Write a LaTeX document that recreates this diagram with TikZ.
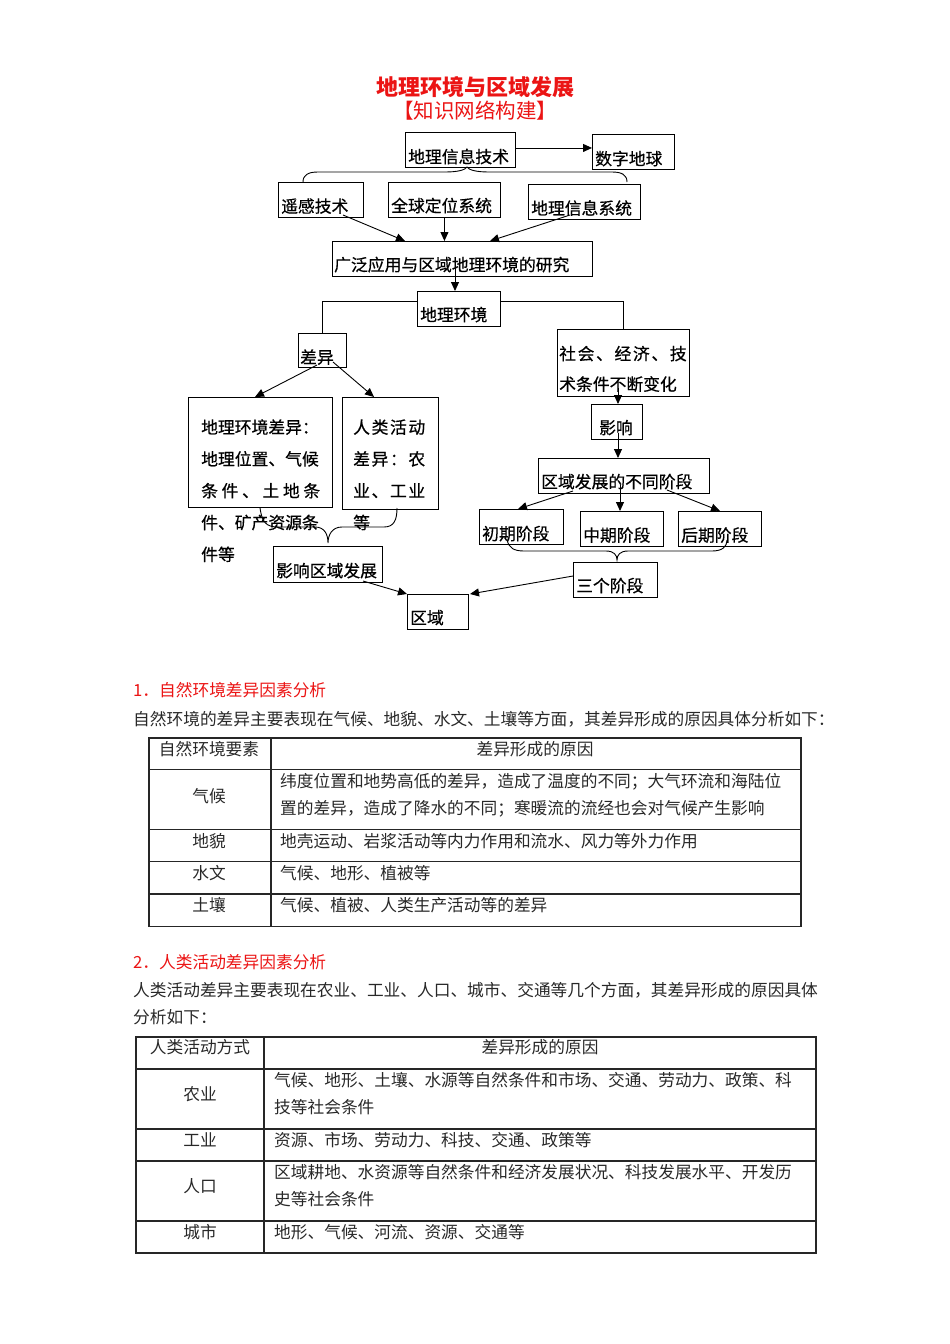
\documentclass[tikz,border=0pt]{standalone}
\usepackage{fontspec}
\setmainfont{Noto Sans CJK SC}
\newfontfamily\dfam[FakeBold=0.5]{Noto Sans CJK SC}
\usetikzlibrary{arrows.meta,calc}
\definecolor{tred}{RGB}{235,20,20}
\definecolor{ttext}{RGB}{40,40,40}
\newcommand{\dfont}{\dfam\fontsize{16.8pt}{20pt}\selectfont}
\newcommand{\tfont}{\fontsize{16.7pt}{20pt}\selectfont}
\begin{document}
\begin{tikzpicture}[x=1pt,y=-1pt,
  box/.style={draw, line width=0.9pt, inner sep=0pt, anchor=north west},
  lbl/.style={anchor=base west, inner sep=0pt, font=\dfont},
  arr/.style={line width=0.9pt, -{Triangle[length=9pt,width=8pt]}},
  ln/.style={line width=0.9pt},
  tbo/.style={line width=1.6pt, color=black!85},
  tbi/.style={line width=1.3pt, color=black!85},
  tc/.style={anchor=base, inner sep=0pt, font=\tfont, text=ttext},
  tl/.style={anchor=base west, inner sep=0pt, font=\tfont, text=ttext},
  hd/.style={anchor=base west, inner sep=0pt, font=\tfont, text=tred}]
\useasboundingbox (0,0) rectangle (950,1344);

% titles
\node[anchor=base, inner sep=0pt, font=\fontsize{22pt}{26pt}\selectfont\bfseries, text=tred] (title) at (475,95) {地理环境与区域发展};
\node[anchor=base, inner sep=0pt, font=\fontsize{20.5pt}{24pt}\selectfont, text=tred] (subtitle) at (475,118) {【知识网络构建】};

% boxes
\node[box, minimum width=110pt, minimum height=35pt] (git)  at (405,132) {};
\node[box, minimum width=82pt,  minimum height=35pt] (szdq) at (592,134) {};
\node[box, minimum width=85pt,  minimum height=35pt] (ygjs) at (278,182) {};
\node[box, minimum width=112pt, minimum height=35pt] (qqdw) at (388,182) {};
\node[box, minimum width=112pt, minimum height=35pt] (dlxx) at (528,184) {};
\node[box, minimum width=260pt, minimum height=35pt] (gfyy) at (332,241) {};
\node[box, minimum width=83pt,  minimum height=35pt] (dlhj) at (417,291) {};
\node[box, minimum width=48pt,  minimum height=34pt] (cy)   at (298,333) {};
\node[box, minimum width=132pt, minimum height=67pt] (sh)   at (557,329) {};
\node[box, minimum width=144pt, minimum height=110pt] (dlcy) at (188,397) {};
\node[box, minimum width=96pt,  minimum height=112pt] (rlhd) at (342,397) {};
\node[box, minimum width=109pt, minimum height=36pt] (yxqy) at (273,546) {};
\node[box, minimum width=61pt,  minimum height=35pt] (qy)   at (407,594) {};
\node[box, minimum width=51pt,  minimum height=35pt] (yx)   at (591,404) {};
\node[box, minimum width=171pt, minimum height=35pt] (qyfz) at (538,458) {};
\node[box, minimum width=84pt,  minimum height=35pt] (cq)   at (479,509) {};
\node[box, minimum width=83pt,  minimum height=35pt] (zq)   at (580,511) {};
\node[box, minimum width=83pt,  minimum height=35pt] (hq)   at (678,511) {};
\node[box, minimum width=84pt,  minimum height=35pt] (sgjd) at (573,562) {};

% box texts
\node[lbl] (tgit)  at (408,163)   {地理信息技术};
\node[lbl] (tszdq) at (595,165)   {数字地球};
\node[lbl] (tygjs) at (281,212.5) {遥感技术};
\node[lbl] (tqqdw) at (391,212)   {全球定位系统};
\node[lbl] (tdlxx) at (531,214.5) {地理信息系统};
\node[lbl] (tgfyy) at (334,271)   {广泛应用与区域地理环境的研究};
\node[lbl] (tdlhj) at (420,321)   {地理环境};
\node[lbl] (tcy)   at (300,363.5) {差异};
\node[lbl] (tsh1)  at (559,360)   {\makebox[127.5pt][s]{社\hfill 会\hfill 、\hfill 经\hfill 济\hfill 、\hfill 技}};
\node[lbl] (tsh2)  at (559,390.5) {术条件不断变化};
\node[lbl] (td1) at (201,433.5) {地理环境差异：};
\node[lbl] (td2) at (201,465.3) {地理位置、气候};
\node[lbl] (td3) at (201,497.1) {\makebox[119pt][s]{条\hfill 件\hfill 、\hfill 土\hfill 地\hfill 条}};
\node[lbl] (td4) at (201,528.9) {件、矿产资源条};
\node[lbl] (td5) at (201,560.7) {件等};
\node[lbl] (tr1) at (353,433.5) {\makebox[72pt][s]{人\hfill 类\hfill 活\hfill 动}};
\node[lbl] (tr2) at (353,465.3) {\makebox[72pt][s]{差\hfill 异\hfill ：\hfill 农}};
\node[lbl] (tr3) at (353,497.1) {\makebox[72pt][s]{业\hfill 、\hfill 工\hfill 业}};
\node[lbl] (tr4) at (353,528.9) {等};
\node[lbl] (tyxqy) at (276,577)   {影响区域发展};
\node[lbl] (tqy)   at (410,624)   {区域};
\node[lbl] (tyx)   at (599,434)   {影响};
\node[lbl] (tqyfz) at (541,488)   {区域发展的不同阶段};
\node[lbl] (tcq)   at (482,540)   {初期阶段};
\node[lbl] (tzq)   at (583,541.5) {中期阶段};
\node[lbl] (thq)   at (681,541.5) {后期阶段};
\node[lbl] (tsgjd) at (576,592)   {三个阶段};

% connectors
\draw[arr] ([yshift=2pt]git.east) -- ([yshift=2pt]git.east -| szdq.west);
\draw[ln] (303,182) .. controls (303,175) and (308,172) .. (318,172) -- (445,172)
  .. controls (458,172) and (465,170) .. (467,167)
  .. controls (469,170) and (476,172) .. (489,172) -- (612,172)
  .. controls (622,172) and (627,175) .. (627,182);
\draw[arr] (343,215) -- (405,241);
\draw[arr] (qqdw.south) -- (qqdw.south |- gfyy.north);
\draw[arr] (570,215) -- (490,241);
\draw[arr] (455,268) -- (455,291);
\draw[ln] ([yshift=7.5pt]dlhj.west) -| (cy.north);
\draw[ln] ([yshift=7.5pt]dlhj.east) -| (sh.north);
\draw[arr] (317,365) -- (255,397);
\draw[arr] (333,362) -- (374,397);
\draw[ln] (260,508) .. controls (262,522) and (266,527) .. (278,527) -- (315,527)
  .. controls (325,527) and (328,535) .. (328,543)
  .. controls (328,535) and (332,527) .. (342,527) -- (384,527)
  .. controls (394,527) and (397,520) .. (397,508);
\draw[arr] (363,581) -- (407,594);
\draw[arr] (618,388) -- (618,404);
\draw[arr] (618,433) -- (618,458);
\draw[arr] (573,491) -- (518,509);
\draw[arr] (620,485) -- (620,511);
\draw[arr] (667,490) -- (720,511);
\draw[ln] (507,540) .. controls (509,548) and (514,551) .. (524,551) -- (606,551)
  .. controls (614,551) and (617,555) .. (617,560)
  .. controls (617,555) and (620,551) .. (628,551) -- (712,551)
  .. controls (722,551) and (727,547) .. (727,540);
\draw[arr] (573,576) -- (470,594);

% section 1
\node[hd] (h1) at (133,696.3) {1．自然环境差异因素分析};
\node[tl] (p1) at (133,725.3) {自然环境的差异主要表现在气候、地貌、水文、土壤等方面，其差异形成的原因具体分析如下：};
\draw[tbo] (149,738) rectangle (801,926.5);
\draw[tbi] (271,738) -- (271,926.5);
\foreach \yy in {769.5,829.5,861.8,894} \draw[tbi] (149,\yy) -- (801,\yy);
\node[tc] (a0) at (209,755.3) {自然环境要素};
\node[tc] (b0) at (535,755.3) {差异形成的原因};
\node[tc] (a1) at (209,802.3) {气候};
\node[tl] (b1a) at (280,787.3) {纬度位置和地势高低的差异，造成了温度的不同；大气环流和海陆位};
\node[tl] (b1b) at (280,814.3) {置的差异，造成了降水的不同；寒暖流的流经也会对气候产生影响};
\node[tc] (a2) at (209,847.3) {地貌};
\node[tl] (b2) at (280,847.3) {地壳运动、岩浆活动等内力作用和流水、风力等外力作用};
\node[tc] (a3) at (209,879.3) {水文};
\node[tl] (b3) at (280,879.3) {气候、地形、植被等};
\node[tc] (a4) at (209,911.3) {土壤};
\node[tl] (b4) at (280,911.3) {气候、植被、人类生产活动等的差异};

% section 2
\node[hd] (h2) at (133,968) {2．人类活动差异因素分析};
\node[tl] (p2a) at (133,996.3) {人类活动差异主要表现在农业、工业、人口、城市、交通等几个方面，其差异形成的原因具体};
\node[tl] (p2b) at (133,1023) {分析如下：};
\draw[tbo] (136,1037) rectangle (816,1253);
\draw[tbi] (264,1037) -- (264,1253);
\foreach \yy in {1069,1129,1161,1221} \draw[tbi] (136,\yy) -- (816,\yy);
\node[tc] (c0) at (200,1053.6) {人类活动方式};
\node[tc] (d0) at (540,1053.6) {差异形成的原因};
\node[tc] (c1) at (200,1100.3) {农业};
\node[tl] (d1a) at (274,1086.3) {气候、地形、土壤、水源等自然条件和市场、交通、劳动力、政策、科};
\node[tl] (d1b) at (274,1113) {技等社会条件};
\node[tc] (c2) at (200,1146.3) {工业};
\node[tl] (d2) at (274,1146.3) {资源、市场、劳动力、科技、交通、政策等};
\node[tc] (c3) at (200,1192.3) {人口};
\node[tl] (d3a) at (274,1178) {区域耕地、水资源等自然条件和经济发展状况、科技发展水平、开发历};
\node[tl] (d3b) at (274,1205.3) {史等社会条件};
\node[tc] (c4) at (200,1238) {城市};
\node[tl] (d4) at (274,1238) {地形、气候、河流、资源、交通等};
\end{tikzpicture}
\end{document}
